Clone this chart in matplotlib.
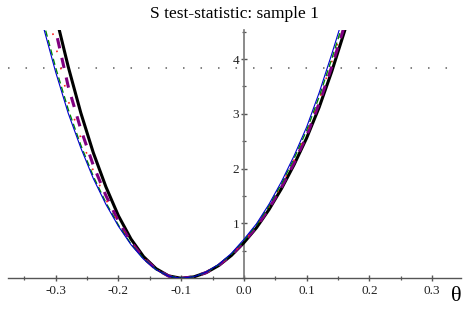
import matplotlib
matplotlib.use("Agg")
import matplotlib.pyplot as plt
import numpy as np
from matplotlib.ticker import MultipleLocator, FixedLocator, FuncFormatter

plt.rcParams['lines.scale_dashes'] = False

# theta grid
theta = [-0.32, -0.30, -0.28, -0.26, -0.24, -0.22, -0.20, -0.18, -0.16, -0.14, -0.12, -0.10,
         -0.08, -0.06, -0.04, -0.02, 0.00, 0.02, 0.04, 0.06, 0.08, 0.10, 0.12, 0.14, 0.16, 0.18]

s_black = [5.86, 4.80, 3.86, 3.02, 2.29, 1.67, 1.14, 0.717, 0.396, 0.176, 0.044, 0.0,
           0.026, 0.104, 0.234, 0.416, 0.65, 0.922, 1.254, 1.638, 2.074, 2.56, 3.122, 3.773, 4.495, 5.253]
s_purple = [5.47, 4.52, 3.50, 2.72, 2.06, 1.51, 1.04, 0.666, 0.371, 0.165, 0.041, 0.0,
            0.026, 0.106, 0.238, 0.422, 0.66, 0.936, 1.274, 1.664, 2.106, 2.60, 3.194, 3.859, 4.597, 5.37]
s_red = [5.23, 4.24, 3.24, 2.56, 1.96, 1.44, 1.00, 0.64, 0.364, 0.162, 0.040, 0.0,
         0.027, 0.107, 0.241, 0.429, 0.67, 0.958, 1.303, 1.702, 2.155, 2.66, 3.267, 3.946, 4.664, 5.449]
s_green = [4.69, 3.84, 3.08, 2.43, 1.86, 1.38, 0.97, 0.627, 0.356, 0.160, 0.040, 0.0,
           0.028, 0.110, 0.248, 0.442, 0.69, 0.972, 1.323, 1.728, 2.187, 2.70, 3.315, 4.003, 4.732, 5.527]
s_blue = [4.60, 3.76, 3.01, 2.38, 1.82, 1.35, 0.95, 0.614, 0.349, 0.157, 0.039, 0.0,
          0.028, 0.114, 0.256, 0.454, 0.71, 0.994, 1.352, 1.766, 2.236, 2.76, 3.388, 4.09, 4.833, 5.645]

critical = 3.84
x_ticks = [-0.3, -0.2, -0.1, 0.0, 0.1, 0.2, 0.3]
y_ticks = [1, 2, 3, 4]

serif = ['Liberation Serif', 'DejaVu Serif']

fig = plt.figure(figsize=(4.69, 3.12), dpi=100)
ax = fig.add_axes([8/469, (312-278.3)/312, (461-8)/469, (278.3-30)/312])
ax.set_xlim(-0.376, 0.346)
ax.set_ylim(0, 4.53)

ax.axhline(critical, color='#777777', lw=1.3, dashes=(1.1, 11.5), dash_capstyle='butt', zorder=1)

ax.plot(theta, s_black, color='black', lw=2.2, zorder=3)
ax.plot(theta, s_purple, color='#800080', lw=2.2, dashes=(7.5, 7.0), zorder=4)
ax.plot(theta, s_red, color='#ff2020', lw=1.2, dashes=(1.2, 11.5), zorder=5)
ax.plot(theta, s_green, color='#008800', lw=1.0, dashes=(4.5, 2.5), zorder=6)
ax.plot(theta, s_blue, color='#0000cc', lw=0.8, zorder=7)

for s in ['top', 'right']:
    ax.spines[s].set_visible(False)
ax.spines['left'].set_position(('data', 0))
ax.spines['bottom'].set_position(('data', 0))
ax.spines['left'].set_color('#777777')
ax.spines['bottom'].set_color('#555555')
ax.spines['left'].set_linewidth(1.2)
ax.spines['bottom'].set_linewidth(1.0)

ax.xaxis.set_major_locator(FixedLocator(x_ticks))
ax.xaxis.set_minor_locator(MultipleLocator(0.05))
ax.yaxis.set_major_locator(FixedLocator(y_ticks))
ax.yaxis.set_minor_locator(MultipleLocator(0.5))
ax.xaxis.set_major_formatter(FuncFormatter(lambda v, p: f"{v:.1f}"))
ax.yaxis.set_major_formatter(FuncFormatter(lambda v, p: f"{int(round(v))}"))

ax.tick_params(which='major', direction='inout', length=5, width=1.0, color='#555555',
               labelsize=9.5, labelcolor='#222222')
ax.tick_params(which='minor', direction='inout', length=3.3, width=0.9, color='#555555')
ax.tick_params(axis='x', which='major', pad=2.0)
ax.tick_params(axis='y', which='major', pad=1.0)
for lab in ax.get_xticklabels() + ax.get_yticklabels():
    lab.set_family(serif)

fig.text(234/469, 1 - 13.5/312, "S test-statistic: sample 1", ha='center', va='center',
         fontsize=12.5, family=serif)
fig.text(456.7/469, 1 - 296.5/312, "θ", ha='center', va='center', fontsize=16, family=serif)

fig.savefig("out.png", dpi=100)
